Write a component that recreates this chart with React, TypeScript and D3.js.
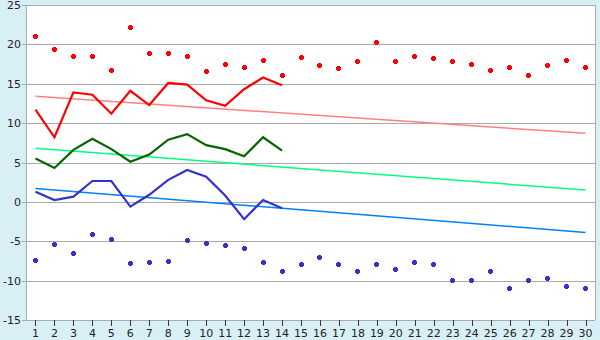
import React from "react";
import * as d3 from "d3";

const days = d3.range(1, 31).map(String);
const yTicks = [-15, -10, -5, 0, 5, 10, 15, 20, 25];

const maxRecord = [21.0, 19.4, 18.5, 18.5, 16.7, 22.1, 18.9, 18.9, 18.5, 16.6, 17.5, 17.0, 17.9, 16.1, 18.3, 17.3, 16.9, 17.8, 20.3, 17.8, 18.5, 18.2, 17.8, 17.4, 16.7, 17.0, 16.1, 17.3, 18.0, 17.0];
const minRecord = [-7.5, -5.4, -6.5, -4.1, -4.75, -7.8, -7.7, -7.6, -4.9, -5.3, -5.5, -5.9, -7.7, -8.9, -7.9, -7.0, -7.9, -8.9, -7.9, -8.6, -7.7, -7.9, -10.0, -10.0, -8.9, -11.0, -10.0, -9.7, -10.7, -11.0];

const maxTemp = [11.7, 8.2, 13.9, 13.6, 11.2, 14.1, 12.3, 15.1, 14.9, 12.9, 12.2, 14.3, 15.8, 14.8];
const meanTemp = [5.5, 4.3, 6.6, 8.0, 6.7, 5.1, 6.0, 7.9, 8.6, 7.2, 6.7, 5.8, 8.2, 6.5];
const minTemp = [1.3, 0.24, 0.66, 2.65, 2.65, -0.6, 0.9, 2.8, 4.05, 3.2, 0.8, -2.2, 0.24, -0.8];

const normalMax = [13.4, 8.7];
const normalMean = [6.8, 1.5];
const normalMin = [1.7, -3.9];

const W = 600, H = 340;
const L = 26, R = 595, T = 5, B = 320;

export default function App() {
  const x = d3.scaleBand<string>().domain(days).range([L, R]).paddingInner(0).paddingOuter(0);
  const cx = (i: number) => (x(days[i]) as number) + x.bandwidth() / 2;
  const y = d3.scaleLinear().domain([-15, 25]).range([B, T]);

  const line = d3.line<number>().x((_, i) => cx(i)).y((d) => y(d));
  const trend = (v: number[]) => `M${cx(0)},${y(v[0])}L${cx(days.length - 1)},${y(v[1])}`;

  const marker = (px: number, py: number, color: string, key: string) => {
    const a = Math.floor(px), b = Math.floor(py);
    return (
      <g key={key} fill={color} shapeRendering="crispEdges">
        <rect x={a - 1} y={b - 2} width={3} height={5} />
        <rect x={a - 2} y={b - 1} width={5} height={3} />
      </g>
    );
  };

  const font = "'DejaVu Sans', Verdana, sans-serif";

  return (
    <svg width={W} height={H} style={{ position: "absolute", left: 0, top: 0 }}>
      <rect x={0} y={0} width={W} height={H} fill="#d9eff6" />
      <rect x={L} y={T} width={R - L} height={B - T} fill="#ffffff" />
      {yTicks.map((t) => (
        <g key={t}>
          <line x1={L - 4} x2={R} y1={Math.round(y(t)) + 0.5} y2={Math.round(y(t)) + 0.5} stroke="#aaaaaa" strokeWidth={1} />
          <text x={21} y={y(t) + 4} textAnchor="end" fontFamily={font} fontSize={11} fill="#222">
            {t}
          </text>
        </g>
      ))}
      <line x1={L + 0.5} x2={L + 0.5} y1={T} y2={B} stroke="#aaaaaa" />
      <line x1={R + 0.5} x2={R + 0.5} y1={T} y2={B} stroke="#aaaaaa" />
      {days.map((d, i) => (
        <g key={d}>
          <line x1={Math.round(cx(i)) + 0.5} x2={Math.round(cx(i)) + 0.5} y1={B} y2={B + 6} stroke="#333" />
          <text x={cx(i)} y={337} textAnchor="middle" fontFamily={font} fontSize={11} fill="#222">
            {d}
          </text>
        </g>
      ))}
      <path d={trend(normalMax)} stroke="#ff8080" strokeWidth={1.5} fill="none" />
      <path d={trend(normalMean)} stroke="#00ff80" strokeWidth={1.5} fill="none" />
      <path d={trend(normalMin)} stroke="#0080ff" strokeWidth={1.5} fill="none" />
      <path d={line(maxTemp) || ""} stroke="#ff0000" strokeWidth={2.2} fill="none" />
      <path d={line(meanTemp) || ""} stroke="#006600" strokeWidth={2.2} fill="none" />
      <path d={line(minTemp) || ""} stroke="#3333cc" strokeWidth={2.2} fill="none" />
      {maxRecord.map((v, i) => marker(cx(i), y(v), "#ff0000", "mx" + i))}
      {minRecord.map((v, i) => marker(cx(i), y(v), "#3333cc", "mn" + i))}
    </svg>
  );
}
